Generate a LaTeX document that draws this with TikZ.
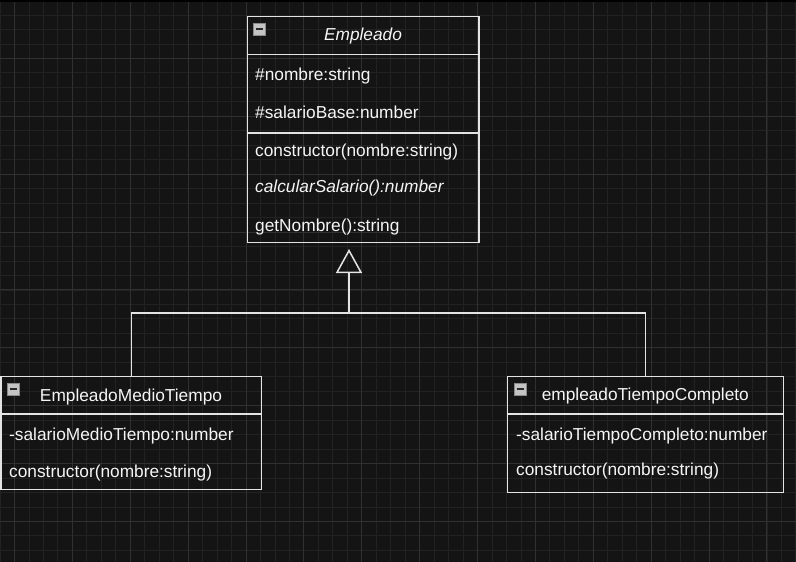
\documentclass[tikz,border=0pt]{standalone}
\usepackage{fontspec}
\setmainfont{Liberation Sans}
\usetikzlibrary{arrows.meta}
\definecolor{bgc}{HTML}{141414}
\definecolor{minorc}{HTML}{222222}
\definecolor{majorc}{HTML}{303030}
\definecolor{linec}{HTML}{E4E4E4}
\definecolor{txtc}{HTML}{F5F5F5}
\definecolor{icof}{HTML}{C4C4C4}
\definecolor{icob}{HTML}{8A8A8A}
\definecolor{icol}{HTML}{2A2A2A}
\begin{document}
\begin{tikzpicture}[x=1pt,y=-1pt,
  ln/.style={draw=linec, line width=1.5pt},
  box/.style={ln, rectangle, inner sep=0pt, outer sep=0pt, anchor=north west},
  txt/.style={text=txtc, inner sep=0pt, anchor=base west, font=\fontsize{17.3}{20}\selectfont},
  itxt/.style={txt, font=\fontsize{17.3}{20}\selectfont\itshape},
  ttl/.style={txt, anchor=base},
  ittl/.style={itxt, anchor=base},
  icon/.style={draw=icob, fill=icof, line width=0.8pt, minimum size=12pt, inner sep=0pt, outer sep=0pt, anchor=north west},
  minus/.style={draw=icol, line width=2pt}]
\fill[bgc] (0,0) rectangle (796,562);
\useasboundingbox (0,0) rectangle (796,562);
% grid
\foreach \k in {0,...,55} {
  \draw[minorc, line width=0.8pt] ({\k*14.47},0) -- ({\k*14.47},562);
}
\foreach \k in {0,...,39} {
  \draw[minorc, line width=0.8pt] (0,{0.5+\k*14.47}) -- (796,{0.5+\k*14.47});
}
\foreach \k in {0,...,13} {
  \draw[majorc, line width=0.9pt] ({14.47+\k*57.88},0) -- ({14.47+\k*57.88},562);
}
\foreach \k in {1,...,9} {
  \draw[majorc, line width=0.9pt] (0,{0.5+\k*57.88}) -- (796,{0.5+\k*57.88});
}
\draw[black, line width=1.5pt] (0,0.75) -- (796,0.75);

% Empleado
\node[box, minimum width=231.7pt, minimum height=225.8pt] (emp) at (247.3,16.7) {};
\draw[ln] (emp.west |- 0,54.5) -- (emp.east |- 0,54.5);
\draw[ln] (emp.west |- 0,132.8) -- (emp.east |- 0,132.8);
\node[icon] (i1) at (253.3,23.3) {};
\draw[minus] ([xshift=2.5pt]i1.west) -- ([xshift=-2.5pt]i1.east);
\node[ittl] (t1) at (363,41) {Empleado};
\node[txt] (a1) at (255,80.7) {\#nombre:string};
\node[txt] (a2) at (255,118.3) {\#salarioBase:number};
\node[txt] (m1) at (255,156.7) {constructor(nombre:string)};
\node[itxt] (m2) at (255,192.7) {calcularSalario():number};
\node[txt] (m3) at (255,231) {getNombre():string};

% EmpleadoMedioTiempo
\node[box, minimum width=260.5pt, minimum height=112.8pt] (mt) at (1.2,376.5) {};
\draw[ln] (mt.west |- 0,414) -- (mt.east |- 0,414);
\node[icon] (i2) at (7.5,383.3) {};
\draw[minus] ([xshift=2.5pt]i2.west) -- ([xshift=-2.5pt]i2.east);
\node[ttl] (t2) at (131,401) {EmpleadoMedioTiempo};
\node[txt] (b1) at (9,440) {-salarioMedioTiempo:number};
\node[txt] (b2) at (9,477.5) {constructor(nombre:string)};

% empleadoTiempoCompleto
\node[box, minimum width=276.4pt, minimum height=115.8pt] (tc) at (507.3,376.5) {};
\draw[ln] (tc.west |- 0,414) -- (tc.east |- 0,414);
\node[icon] (i3) at (514,383.3) {};
\draw[minus] ([xshift=2.5pt]i3.west) -- ([xshift=-2.5pt]i3.east);
\node[ttl] (t3) at (645.3,400.7) {empleadoTiempoCompleto};
\node[txt] (c1) at (516,440) {-salarioTiempoCompleto:number};
\node[txt] (c2) at (516,475) {constructor(nombre:string)};

% inheritance
\coordinate (j) at (349,313);
\draw[ln, -{Triangle[open, length=24pt, width=26pt]}, shorten >=6.5pt]
  (mt.north) |- (j) -- (j |- emp.south);
\draw[ln] (tc.north) |- (j);
\end{tikzpicture}
\end{document}
